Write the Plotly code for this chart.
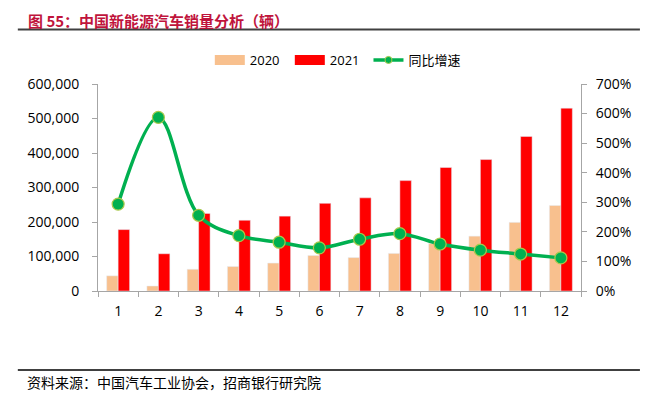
import plotly.graph_objects as go

months = ["1", "2", "3", "4", "5", "6", "7", "8", "9", "10", "11", "12"]
sales_2020 = [44000, 14500, 63000, 71000, 81000, 103000, 97000, 109000, 138000, 159000, 199000, 248000]
sales_2021 = [178000, 108000, 225000, 205000, 217000, 254000, 270000, 320000, 358000, 381000, 448000, 530000]
yoy_growth = [2.94, 5.87, 2.56, 1.87, 1.65, 1.46, 1.75, 1.94, 1.59, 1.38, 1.25, 1.12]

left_ticks = [0, 100000, 200000, 300000, 400000, 500000, 600000]
right_ticks = [0, 1, 2, 3, 4, 5, 6, 7]

title_text = "图 55：中国新能源汽车销量分析（辆）"
source_text = "资料来源：中国汽车工业协会，招商银行研究院"

c2020 = "#F8C08E"
c2021 = "#FF0000"
cline = "#00B050"
cmk_edge = "#A8C84A"

tick_font = dict(family="Open Sans, Liberation Sans, sans-serif", size=14, color="#000000")
legend_font = dict(family="Open Sans, Noto Sans CJK SC, sans-serif", size=13)

fig = go.Figure()
fig.add_trace(go.Bar(x=months, y=sales_2020, name="2020", marker=dict(color=c2020), showlegend=False))
fig.add_trace(go.Bar(x=months, y=sales_2021, name="2021", marker=dict(color=c2021), showlegend=False))
fig.add_trace(go.Scatter(
    x=months, y=yoy_growth, name="同比增速", yaxis="y2", mode="lines+markers",
    line=dict(color=cline, width=3.5, shape="spline", smoothing=1.0),
    marker=dict(color=cline, size=12, line=dict(color=cmk_edge, width=1.2)),
    showlegend=False,
))
# legend-only entries (wide swatches like the reference)
fig.add_trace(go.Scatter(x=[None], y=[None], name="2020", mode="lines",
                         line=dict(color=c2020, width=10), legend="legend"))
fig.add_trace(go.Scatter(x=[None], y=[None], name="2021", mode="lines",
                         line=dict(color=c2021, width=10), legend="legend"))
fig.add_trace(go.Scatter(x=[None], y=[None], name="同比增速", mode="lines+markers",
                         line=dict(color=cline, width=3.5),
                         marker=dict(color=cline, size=7, line=dict(color=cmk_edge, width=1)),
                         legend="legend2"))

axis_line = "#A6A6A6"
fig.update_layout(
    width=652, height=396,
    margin=dict(l=90, r=79, t=76, b=113, autoexpand=False),
    paper_bgcolor="white", plot_bgcolor="white",
    barmode="group", bargap=0.43, bargroupgap=0.0,
    font=dict(family="Noto Sans CJK SC, Open Sans, sans-serif", size=13, color="#000000"),
    showlegend=True,
    legend=dict(orientation="h", x=0.2315, xanchor="left", y=1.116, yanchor="middle",
                font=legend_font, entrywidth=35, entrywidthmode="pixels",
                traceorder="normal", bgcolor="rgba(0,0,0,0)"),
    legend2=dict(orientation="h", x=0.560, xanchor="left", y=1.116, yanchor="middle",
                 font=legend_font, bgcolor="rgba(0,0,0,0)"),
    xaxis=dict(type="category", range=[-0.5, 11.5], showgrid=False, showline=True,
               linecolor=axis_line, linewidth=1,
               ticks="outside", ticklen=5, tickcolor=axis_line, tickson="boundaries",
               tickfont=tick_font, zeroline=False, ticklabelstandoff=7),
    yaxis=dict(range=[0, 600000], tickvals=left_ticks, tickformat=",d", showgrid=False,
               showline=True, linecolor=axis_line, linewidth=1, ticks="outside", ticklen=5,
               tickcolor=axis_line, tickfont=tick_font, zeroline=False, ticklabelstandoff=10),
    yaxis2=dict(range=[0, 7], tickvals=right_ticks, tickformat=".0%", overlaying="y", side="right",
                showgrid=False, showline=True, linecolor=axis_line, linewidth=1, ticks="outside",
                ticklen=5, tickcolor=axis_line, tickfont=tick_font, zeroline=False,
                ticklabelstandoff=6),
)

fig.add_annotation(text="<b>" + title_text + "</b>", xref="paper", yref="paper",
                   x=-0.147, y=1.362, xanchor="left", yanchor="top", showarrow=False, borderpad=0,
                   font=dict(family="Noto Sans CJK SC, sans-serif", size=15, color="#C0143C"))
fig.add_shape(type="line", xref="paper", yref="paper", x0=-0.166, x1=1.122, y0=1.263, y1=1.263,
              line=dict(color="#404040", width=2))
fig.add_shape(type="line", xref="paper", yref="paper", x0=-0.166, x1=1.122, y0=-0.382, y1=-0.382,
              line=dict(color="#000000", width=1.5))
fig.add_annotation(text=source_text, xref="paper", yref="paper",
                   x=-0.151, y=-0.438, xanchor="left", yanchor="middle", showarrow=False,
                   font=dict(family="Noto Sans CJK SC, sans-serif", size=14, color="#000000"))

fig.write_html("out.html")
